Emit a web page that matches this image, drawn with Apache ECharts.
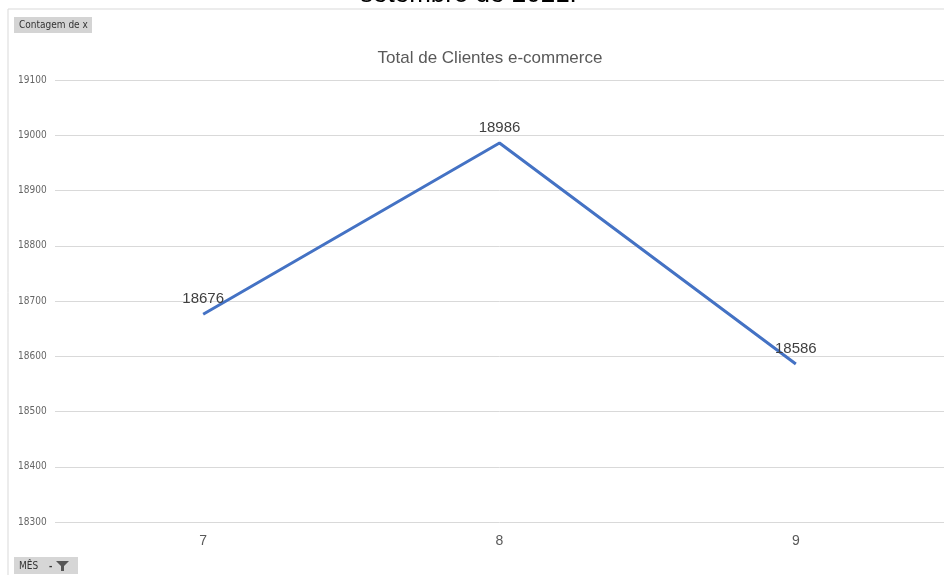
<!DOCTYPE html>
<html>
<head>
	<meta charset="utf-8" />
	<title>Total de Clientes e-commerce</title>
	<script src="https://cdn.jsdelivr.net/npm/echarts@6/dist/echarts.min.js"></script>
	<style>
		html, body { margin: 0; padding: 0; background: #fff; }
		#chart { width: 944px; height: 575px; }
	</style>
</head>
<body>
	<div id="chart"></div>
	<script type="text/javascript">
		const meses = ['7', '8', '9'];
		const clientes = [18676, 18986, 18586];
		const yMin = 18300;
		const yMax = 19100;
		const yStep = 100;

		const chart = echarts.init(document.getElementById('chart'));

		const option = {
			animation: false,
			backgroundColor: '#fff',
			title: {
				text: 'Total de Clientes e-commerce',
				left: 485,
				top: 45,
				textAlign: 'center',
				textStyle: {
					color: '#595959',
					fontFamily: 'Liberation Sans, Arial',
					fontSize: 17,
					fontWeight: 'normal'
				}
			},
			graphic: [
				{
					// caption of the page above, cut off by the chart box
					type: 'text',
					left: 360,
					top: -18,
					z: -2,
					style: {
						text: 'setembro de 2021.',
						fill: '#000',
						font: '26px "Liberation Sans", Arial'
					}
				},
				{
					type: 'rect',
					shape: { x: 8, y: 9, width: 940, height: 570 },
					z: -1,
					style: { fill: '#fff', stroke: '#d9d9d9', lineWidth: 1 }
				},
				{
					type: 'rect',
					shape: { x: 14, y: 17, width: 78, height: 16 },
					z: 3,
					style: { fill: '#d4d4d4' }
				},
				{
					type: 'text',
					x: 19,
					y: 25,
					z: 4,
					style: {
						text: 'Contagem de x',
						fill: '#333',
						font: '10px "Liberation Sans Narrow", "DejaVu Sans Condensed", sans-serif',
						verticalAlign: 'middle'
					}
				},
				{
					type: 'rect',
					shape: { x: 14, y: 557, width: 64, height: 17 },
					z: 3,
					style: { fill: '#d6d6d6' }
				},
				{
					type: 'text',
					x: 19,
					y: 566,
					z: 4,
					style: {
						text: 'MÊS',
						fill: '#333',
						font: '10px "DejaVu Sans Condensed", sans-serif',
						verticalAlign: 'middle'
					}
				},
				{
					type: 'text',
					x: 49,
					y: 566,
					z: 4,
					style: {
						text: '-',
						fill: '#333',
						font: 'bold 10px sans-serif',
						verticalAlign: 'middle'
					}
				},
				{
					type: 'polygon',
					z: 4,
					shape: { points: [[56, 561], [69, 561], [64, 566], [64, 571], [61, 571], [61, 566]] },
					style: { fill: '#555' }
				}
			],
			grid: {
				left: 55,
				right: -1,
				top: 80,
				bottom: 53
			},
			xAxis: {
				type: 'category',
				data: meses,
				boundaryGap: true,
				axisLine: { show: false },
				axisTick: { show: false },
				axisLabel: {
					color: '#595959',
					fontFamily: 'Liberation Sans, Arial',
					fontSize: 14,
					margin: 12
				}
			},
			yAxis: {
				type: 'value',
				min: yMin,
				max: yMax,
				interval: yStep,
				axisLine: { show: false },
				axisTick: { show: false },
				axisLabel: {
					color: '#666',
					fontFamily: 'Liberation Sans Narrow, DejaVu Sans Condensed, sans-serif',
					fontSize: 10,
					align: 'left',
					margin: 37,
					formatter: function (v) { return String(v); }
				},
				splitLine: {
					lineStyle: { color: '#d9d9d9', width: 1 }
				}
			},
			series: [{
				type: 'line',
				data: clientes,
				z: 5,
				symbol: 'circle',
				symbolSize: 0,
				itemStyle: { color: '#4472c4' },
				lineStyle: { color: '#4472c4', width: 3 },
				label: {
					show: true,
					position: 'top',
					distance: 8,
					color: '#404040',
					fontFamily: 'Liberation Sans, Arial',
					fontSize: 15
				}
			}]
		};

		chart.setOption(option);
	</script>
</body>
</html>
